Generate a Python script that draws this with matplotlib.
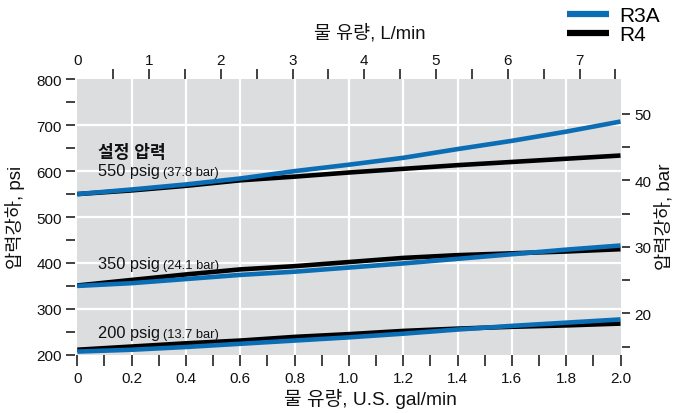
import matplotlib
matplotlib.use('Agg')
import matplotlib.pyplot as plt
from matplotlib.transforms import offset_copy
from matplotlib.lines import Line2D

plt.rcParams['font.family'] = ['Liberation Sans Narrow', 'Liberation Sans', 'Noto Sans CJK KR']
TITLE_FONT = ['Liberation Sans', 'Noto Sans CJK KR']

# ---- data ----
flow_gpm = [0.0, 0.2, 0.4, 0.6, 0.8, 1.0, 1.2, 1.4, 1.6, 1.8, 2.0]
r3a_550 = [550, 560, 571, 584, 600, 614, 629, 648, 666, 686, 708]
r4_550 = [550, 558, 568, 580, 588, 597, 605, 613, 620, 627, 634]
r3a_350 = [350, 356, 365, 374, 381, 390, 399, 409, 419, 429, 438]
r4_350 = [351, 363, 375, 386, 393, 402, 411, 417, 421, 425, 430]
r3a_200 = [207, 211, 217, 224, 231, 238, 246, 255, 263, 270, 277]
r4_200 = [211, 218, 225, 231, 239, 245, 252, 257, 261, 264, 268]

set_labels = ['550 psig', '350 psig', '200 psig']
set_bar_labels = ['(37.8 bar)', '(24.1 bar)', '(13.7 bar)']
set_label_y = [592, 389, 239]

x_major = [0.0, 0.2, 0.4, 0.6, 0.8, 1.0, 1.2, 1.4, 1.6, 1.8, 2.0]
x_minor = [0.1, 0.3, 0.5, 0.7, 0.9, 1.1, 1.3, 1.5, 1.7, 1.9]
y_major = [200, 300, 400, 500, 600, 700, 800]
y_minor = [250, 350, 450, 550, 650, 750]
lpm_major = [0, 1, 2, 3, 4, 5, 6, 7]
lpm_minor = [0.5, 1.5, 2.5, 3.5, 4.5, 5.5, 6.5, 7.5]
bar_major = [20, 30, 40, 50]
bar_minor = [15, 25, 35, 45]

GAL_TO_L = 3.785
PSI_PER_BAR = 14.5038

BLUE = '#0b6db3'
BG = '#dcdddf'
TICKC = '#333333'
TXT = '#111111'

fig = plt.figure(figsize=(6.89, 4.14), dpi=100)
ax = fig.add_axes([77.3 / 689, 1 - 355.8 / 414, (620.5 - 77.3) / 689, (355.8 - 80.3) / 414])
ax.set_facecolor(BG)
ax.set_xlim(0, 2)
ax.set_ylim(200, 800)

for v in x_major[1:-1]:
    ax.axvline(v, color='white', lw=1.6, zorder=1)
for v in y_major[1:-1]:
    ax.axhline(v, color='white', lw=1.6, zorder=1)

for b, r in [(r4_550, r3a_550), (r4_350, r3a_350), (r4_200, r3a_200)]:
    ax.plot(flow_gpm, b, color='black', lw=3.3, solid_capstyle='butt', zorder=3)
    ax.plot(flow_gpm, r, color=BLUE, lw=3.3, solid_capstyle='butt', zorder=4)

for sp in ax.spines.values():
    sp.set_visible(False)
ax.spines['left'].set_position(('outward', 1.5))

# bottom axis
ax.set_xticks(x_major)
ax.set_xticklabels(['0' if v == 0 else f'{v:.1f}' for v in x_major])
ax.set_xticks(x_minor, minor=True)
ax.tick_params(axis='x', which='both', direction='out', length=8, width=1.3,
               color=TICKC, labelsize=11, pad=4, labelcolor=TXT)
xt = ax.xaxis.get_major_ticks()
xt[0].tick1line.set_visible(False)
xt[-1].tick1line.set_visible(False)

# left axis
ax.set_yticks(y_major)
ax.set_yticklabels([str(v) for v in y_major])
ax.set_yticks(y_minor, minor=True)
ax.tick_params(axis='y', which='both', direction='out', length=6.5, width=1.3,
               color=TICKC, labelsize=11, pad=3, labelcolor=TXT)
yt = ax.yaxis.get_major_ticks()
yt[0].tick1line.set_visible(False)
yt[-1].tick1line.set_visible(False)

# top axis (L/min)
axt = ax.twiny()
axt.set_xlim(0, 2 * GAL_TO_L)
for sp in axt.spines.values():
    sp.set_visible(False)
axt.set_xticks(lpm_major)
axt.set_xticklabels([str(v) for v in lpm_major])
axt.set_xticks(lpm_minor, minor=True)
axt.tick_params(axis='x', which='both', direction='out', length=7.2, width=1.3,
                color=TICKC, labelsize=11, pad=2, labelcolor=TXT)
axt.xaxis.get_major_ticks()[0].tick2line.set_visible(False)

# right axis (bar)
axr = ax.twinx()
axr.set_ylim(200 / PSI_PER_BAR, 800 / PSI_PER_BAR)
for sp in axr.spines.values():
    sp.set_visible(False)
axr.spines['right'].set_position(('outward', 1.2))
axr.set_yticks(bar_major)
axr.set_yticklabels([str(v) for v in bar_major])
axr.set_yticks(bar_minor, minor=True)
axr.tick_params(axis='y', which='both', direction='out', length=6, width=1.3,
                color=TICKC, labelsize=11, pad=3, labelcolor=TXT)

# set-pressure labels
ax.text(0.078, 643, '설정 압력', fontsize=12.3, fontweight='bold', va='center', ha='left',
        color=TXT, zorder=5, family=TITLE_FONT)
fig.canvas.draw()
renderer = fig.canvas.get_renderer()
for lab, blab, yv in zip(set_labels, set_bar_labels, set_label_y):
    t = ax.text(0.078, yv, lab, fontsize=11.8, va='baseline', ha='left', color=TXT, zorder=5)
    bb = t.get_window_extent(renderer=renderer)
    tr = offset_copy(ax.transData, fig=fig, x=bb.width + 3, y=0, units='dots')
    ax.text(0.078, yv, blab, fontsize=9.3, va='baseline', ha='left', color=TXT,
            transform=tr, zorder=5)

# axis titles
fig.text(370 / 689, 1 - 33 / 414, '물 유량, L/min', fontsize=13.3, ha='center', va='center',
         color=TXT, family=TITLE_FONT)
fig.text(370 / 689, 1 - 399 / 414, '물 유량, U.S. gal/min', fontsize=13.8, ha='center', va='center',
         color=TXT, family=TITLE_FONT)
fig.text(15 / 689, 1 - 217 / 414, '압력강하, psi', fontsize=13.5, ha='center', va='center',
         rotation=90, color=TXT, family=TITLE_FONT)
fig.text(665 / 689, 1 - 217 / 414, '압력강하, bar', fontsize=13.5, ha='center', va='center',
         rotation=90, color=TXT, family=TITLE_FONT)

handles = [Line2D([], [], color=BLUE, lw=4.5, solid_capstyle='butt'),
           Line2D([], [], color='black', lw=4.5, solid_capstyle='butt')]
fig.legend(handles, ['R3A', 'R4'], loc='upper left', bbox_to_anchor=(565 / 689, 1 - 5 / 414),
           frameon=False, fontsize=15, handlelength=2.0, handletextpad=0.5,
           labelspacing=0.0, borderaxespad=0, borderpad=0.1)

fig.savefig('out.png', dpi=100)
